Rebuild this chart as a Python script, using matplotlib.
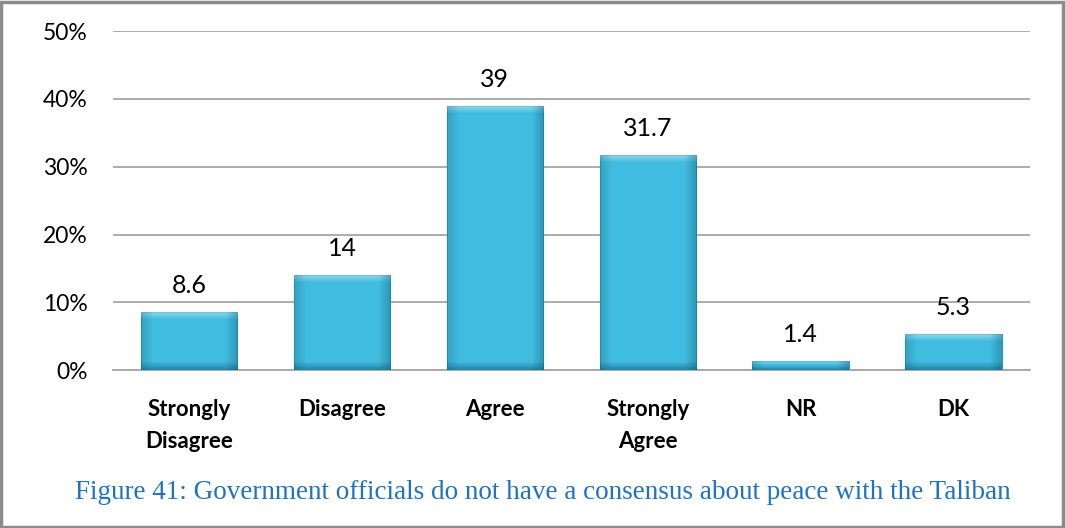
import numpy as np
import matplotlib.pyplot as plt
from matplotlib.patches import Rectangle

# Chart data
categories = ['Strongly\nDisagree', 'Disagree', 'Agree', 'Strongly\nAgree', 'NR', 'DK']
values = [8.6, 14, 39, 31.7, 1.4, 5.3]
value_labels = ['8.6', '14', '39', '31.7', '1.4', '5.3']
yticks = [0, 10, 20, 30, 40, 50]
caption = 'Figure 41: Government officials do not have a consensus about peace with the Taliban'

plt.rcParams['font.family'] = ['Lato', 'DejaVu Sans']

fig = plt.figure(figsize=(10.65, 5.28), dpi=100)
ax = fig.add_axes([0.106, 0.299, 0.861, 0.642])

x = np.arange(len(categories))
bars = ax.bar(x, values, width=0.63, color='#3FBCDF', edgecolor='#2A9BBB',
              linewidth=0.8, zorder=3)

# fake bevel, fixed thickness in data units (~8 px)
bev = 1.2
dark = [0.05, 0.32, 0.42]
top_img = np.zeros((12, 1, 4))
top_img[:, 0, :3] = 1.0
top_img[:, 0, 3] = np.linspace(0.45, 0.0, 12)
bot_img = np.zeros((12, 1, 4))
bot_img[:, 0, :3] = dark
bot_img[:, 0, 3] = np.linspace(0.0, 0.5, 12)
side_img = np.zeros((1, 20, 4))
side_img[0, :, :3] = dark
side_img[0, :, 3] = np.concatenate([np.linspace(0.2, 0, 3), np.zeros(14), np.linspace(0, 0.3, 3)])

for b in bars:
    x0, w, h = b.get_x(), b.get_width(), b.get_height()
    bh = min(bev, h / 2)
    for img, ext in [(top_img, [x0, x0 + w, h - bh, h]),
                     (bot_img, [x0, x0 + w, 0, bh]),
                     (side_img, [x0, x0 + w, 0, h])]:
        im = ax.imshow(img, extent=ext, aspect='auto', zorder=4, interpolation='bilinear')
        im.set_clip_path(b)

for xi, v, lab in zip(x, values, value_labels):
    ax.text(xi, v + 2.2, lab, ha='center', va='bottom', fontsize=18, color='black')

ax.set_xlim(-0.5, len(categories) - 0.5)
ax.set_ylim(0, 50)
ax.set_yticks(yticks)
ax.set_yticklabels([f'{t}%' for t in yticks], fontsize=16.5)
ax.set_xticks(x)
ax.set_xticklabels(categories, fontsize=16, fontweight='bold', linespacing=1.65)
ax.tick_params(axis='x', length=0, pad=21)
ax.tick_params(axis='y', length=0, pad=18)
ax.yaxis.grid(True, color='#A6A6A6', linewidth=1.3, zorder=0)
for s in ['top', 'right', 'left']:
    ax.spines[s].set_visible(False)
ax.spines['bottom'].set_color('#A6A6A6')
ax.spines['bottom'].set_linewidth(1.3)

fig.text(0.51, 0.068, caption, ha='center', va='center', fontsize=19.5,
         family='Liberation Serif', color='#1F72C4')

fig.patches.append(Rectangle((0.001, 0.002), 0.997, 0.995, transform=fig.transFigure,
                             fill=False, edgecolor='#8C8C8C', linewidth=2.5))

fig.savefig('out.png', dpi=100)
